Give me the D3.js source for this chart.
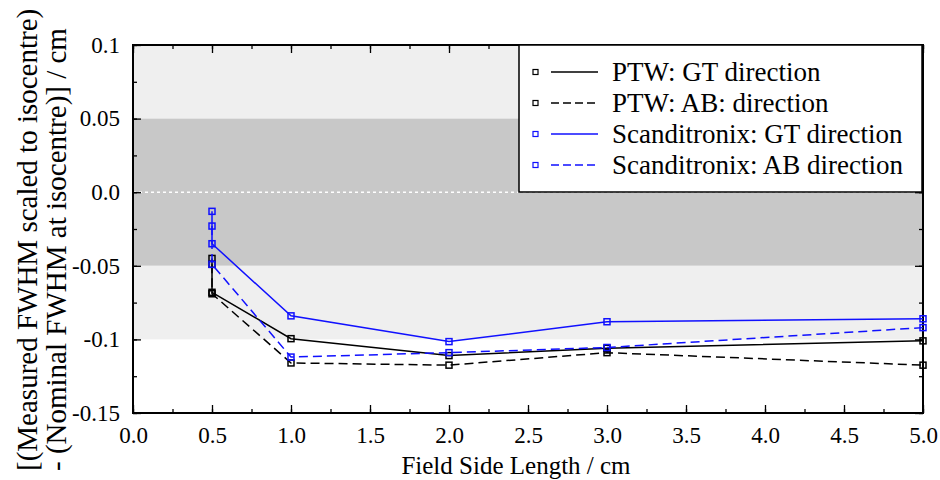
<!DOCTYPE html>
<html>
<head>
<meta charset="utf-8">
<script src="https://cdn.jsdelivr.net/npm/d3@7"></script>
<style>
  body { margin: 0; background: #fff; }
</style>
</head>
<body>
<script>
// field side length (cm) - 0.5 was measured twice
const fieldSizes = [0.5, 0.5, 1, 2, 3, 5];
const ptwGT = [-0.045, -0.068, -0.0995, -0.111, -0.106, -0.101];
const ptwAB = [-0.049, -0.069, -0.116, -0.1175, -0.109, -0.1175];
const scxGT = [-0.013, -0.035, -0.084, -0.1015, -0.088, -0.086];
const scxAB = [-0.023, -0.049, -0.112, -0.109, -0.1055, -0.092];
const seriesNames = ["PTW: GT direction", "PTW: AB: direction", "Scanditronix: GT direction", "Scanditronix: AB direction"];
const xTicks = [0, 0.5, 1, 1.5, 2, 2.5, 3, 3.5, 4, 4.5, 5];
const yTicks = [0.1, 0.05, 0, -0.05, -0.1, -0.15];
const yTickLabels = ["0.1", "0.05", "0.0", "-0.05", "-0.1", "-0.15"];
const bands = [[0.1, 0.05, "#efefef"], [0.05, -0.05, "#c8c8c8"], [-0.05, -0.1, "#efefef"]];

const width = 940, height = 480;
const plotL = 133, plotR = 923, plotT = 45, plotB = 413;
const serif = "'Liberation Serif', 'DejaVu Serif', 'Times New Roman', serif";

const svg = d3.select("body").append("svg")
  .attr("width", width)
  .attr("height", height)
  .attr("font-family", serif);

const x = d3.scaleLinear().domain([0, 5]).range([plotL, plotR]);
const y = d3.scaleLinear().domain([-0.15, 0.1]).range([plotB, plotT]);

// background bands
svg.append("g").selectAll("rect").data(bands).enter().append("rect")
  .attr("x", plotL)
  .attr("width", plotR - plotL)
  .attr("y", d => y(d[0]))
  .attr("height", d => y(d[1]) - y(d[0]))
  .attr("fill", d => d[2]);

// zero line
svg.append("line")
  .attr("x1", plotL).attr("x2", plotR)
  .attr("y1", y(0)).attr("y2", y(0))
  .attr("stroke", "#fff")
  .attr("stroke-width", 1.5)
  .attr("stroke-dasharray", "3,3");

// axes with inward ticks on all four sides
const xMinor = d3.range(0, 5.001, 0.25);
const yMinor = d3.range(-0.15, 0.1001, 0.025);

function tickAxis(axis, isMinor) {
  return axis.tickSizeInner(isMinor ? -4 : -8).tickSizeOuter(0);
}

svg.append("g").attr("transform", `translate(0,${plotB})`)
  .call(tickAxis(d3.axisBottom(x).tickValues(xMinor).tickFormat(""), true));
svg.append("g").attr("transform", `translate(0,${plotB})`)
  .call(tickAxis(d3.axisBottom(x).tickValues(xTicks).tickFormat(d3.format(".1f")), false))
  .call(g => g.selectAll("text").attr("y", 14));
svg.append("g").attr("transform", `translate(0,${plotT})`)
  .call(tickAxis(d3.axisTop(x).tickValues(xMinor).tickFormat(""), true));
svg.append("g").attr("transform", `translate(0,${plotT})`)
  .call(tickAxis(d3.axisTop(x).tickValues(xTicks).tickFormat(""), false));

svg.append("g").attr("transform", `translate(${plotL},0)`)
  .call(tickAxis(d3.axisLeft(y).tickValues(yMinor).tickFormat(""), true));
svg.append("g").attr("transform", `translate(${plotL},0)`)
  .call(tickAxis(d3.axisLeft(y).tickValues(yTicks).tickFormat((d, i) => yTickLabels[i]), false))
  .call(g => g.selectAll("text").attr("x", -13));
svg.append("g").attr("transform", `translate(${plotR},0)`)
  .call(tickAxis(d3.axisRight(y).tickValues(yMinor).tickFormat(""), true));
svg.append("g").attr("transform", `translate(${plotR},0)`)
  .call(tickAxis(d3.axisRight(y).tickValues(yTicks).tickFormat(""), false));

svg.selectAll(".domain").remove();
svg.selectAll("g[font-family]").attr("font-family", serif).attr("font-size", 23);
svg.selectAll("g.tick text").attr("fill", "#000");
svg.selectAll(".tick line").attr("stroke", "#000").attr("stroke-width", 1.3);

// frame
svg.append("rect")
  .attr("x", plotL).attr("y", plotT)
  .attr("width", plotR - plotL).attr("height", plotB - plotT)
  .attr("fill", "none")
  .attr("stroke", "#000")
  .attr("stroke-width", 2);

// series
const series = [
  { name: seriesNames[0], values: ptwGT, color: "#000", dash: null },
  { name: seriesNames[1], values: ptwAB, color: "#000", dash: "9,5" },
  { name: seriesNames[2], values: scxGT, color: "#1010ff", dash: null },
  { name: seriesNames[3], values: scxAB, color: "#1010ff", dash: "9,5" }
];

const line = d3.line().x(d => x(d[0])).y(d => y(d[1]));

series.forEach(s => {
  const pts = fieldSizes.map((f, i) => [f, s.values[i]]);
  svg.append("path")
    .datum(pts)
    .attr("d", line)
    .attr("fill", "none")
    .attr("stroke", s.color)
    .attr("stroke-width", 1.5)
    .attr("stroke-dasharray", s.dash);
  svg.append("g").selectAll("rect").data(pts).enter().append("rect")
    .attr("x", d => x(d[0]) - 3)
    .attr("y", d => y(d[1]) - 3)
    .attr("width", 6).attr("height", 6)
    .attr("fill", "none")
    .attr("stroke", s.color)
    .attr("stroke-width", 1.5);
});

// legend
const legend = svg.append("g");
legend.append("rect")
  .attr("x", 519).attr("y", 45)
  .attr("width", 403).attr("height", 147)
  .attr("fill", "#fff")
  .attr("stroke", "#000")
  .attr("stroke-width", 1.5);

const items = legend.selectAll(".legends").data(series).enter().append("g")
  .attr("class", "legends")
  .attr("transform", (d, i) => `translate(0,${72 + i * 31})`);
items.append("rect")
  .attr("x", 533).attr("y", -2.5)
  .attr("width", 5).attr("height", 5)
  .attr("fill", "none")
  .attr("stroke", d => d.color)
  .attr("stroke-width", 1.2);
items.append("line")
  .attr("x1", 551).attr("x2", 598)
  .attr("stroke", d => d.color)
  .attr("stroke-width", 1.5)
  .attr("stroke-dasharray", d => d.dash ? "8,4" : null);
items.append("text")
  .attr("x", 612).attr("y", 9)
  .attr("font-size", 27)
  .text(d => d.name);

// axis titles
svg.append("text")
  .attr("x", (plotL + plotR) / 2 - 12)
  .attr("y", 474)
  .attr("text-anchor", "middle")
  .attr("font-size", 25)
  .text("Field Side Length / cm");

const yTitle = svg.append("text")
  .attr("transform", "translate(0,471) rotate(-90)")
  .attr("font-size", 29);
yTitle.append("tspan").attr("x", 0).attr("y", 37).text("[(Measured FWHM scaled to isocentre)");
yTitle.append("tspan").attr("x", 0).attr("y", 66).text("- (Nominal FWHM at isocentre)] / cm");
</script>
</body>
</html>
